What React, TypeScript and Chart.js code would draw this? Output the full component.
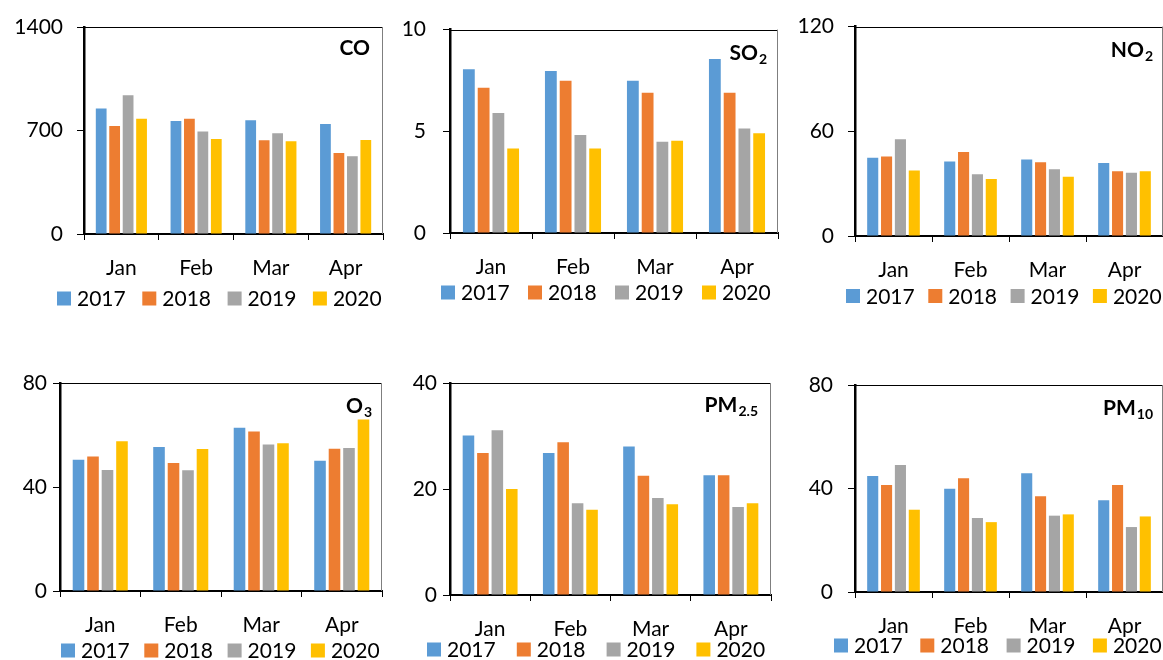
import React, { useEffect, useRef } from 'react';
import { Chart, registerables } from 'chart.js';

Chart.register(...registerables);
Chart.defaults.font.family = 'Lato, "Open Sans", sans-serif';

const months = ['Jan', 'Feb', 'Mar', 'Apr'];
const years = ['2017', '2018', '2019', '2020'];
const yearColors = ['#5B9BD5', '#ED7D31', '#A5A5A5', '#FFC000'];

// rows = years 2017..2020, columns = Jan..Apr
const coValues = [
  [849, 764, 769, 744],
  [730, 780, 634, 548],
  [939, 694, 681, 526],
  [780, 643, 627, 636],
];
const so2Values = [
  [8.05, 7.97, 7.48, 8.55],
  [7.14, 7.48, 6.9, 6.9],
  [5.9, 4.82, 4.49, 5.14],
  [4.15, 4.15, 4.53, 4.9],
];
const no2Values = [
  [44.8, 42.7, 43.8, 41.9],
  [45.5, 48.2, 42.3, 37.1],
  [55.4, 35.4, 38.3, 36.2],
  [37.5, 32.6, 33.9, 37.1],
];
const o3Values = [
  [50.5, 55.4, 62.8, 50.1],
  [51.7, 49.2, 61.3, 54.7],
  [46.5, 46.4, 56.3, 55.0],
  [57.6, 54.6, 56.8, 66.0],
];
const pm25Values = [
  [30.1, 26.8, 28.0, 22.6],
  [26.8, 28.8, 22.5, 22.6],
  [31.1, 17.3, 18.3, 16.6],
  [20.0, 16.1, 17.1, 17.3],
];
const pm10Values = [
  [44.8, 39.9, 45.9, 35.5],
  [41.4, 44.0, 37.0, 41.4],
  [49.1, 28.6, 29.5, 25.1],
  [31.8, 27.0, 30.0, 29.2],
];

const coTicks = [0, 1400, 700];
const so2Ticks = [0, 10, 5];
const no2Ticks = [0, 120, 60];
const o3Ticks = [0, 80, 40];
const pm25Ticks = [0, 40, 20];
const pm10Ticks = [0, 80, 40];

type Panel = {
  name: string; sub: string; values: number[][]; ticks: number[];
  left: number; top: number; width: number; height: number;
  yw: number; pr: number; pt: number; pb: number; yPad: number;
  titleDx: number; titleDy: number;
  legendX: number; legendY: number; legendPitch: number;
};

const XH = 52;

const panels: Panel[] = [
  { name: 'CO', sub: '', values: coValues, ticks: coTicks, left: 0, top: 0, width: 390, height: 330,
    yw: 84, pr: 7, pt: 27, pb: 44, yPad: 14, titleDx: 13, titleDy: 28, legendX: 57, legendY: 298.5, legendPitch: 85.3 },
  { name: 'SO', sub: '2', values: so2Values, ticks: so2Ticks, left: 390, top: 0, width: 390, height: 330,
    yw: 60, pr: 2, pt: 26, pb: 45, yPad: 17, titleDx: 11, titleDy: 30, legendX: 441, legendY: 292.5, legendPitch: 87 },
  { name: 'NO', sub: '2', values: no2Values, ticks: no2Ticks, left: 780, top: 0, width: 383, height: 330,
    yw: 75, pr: 0, pt: 26, pb: 42, yPad: 14, titleDx: 10, titleDy: 30, legendX: 846, legendY: 296, legendPitch: 82.3 },
  { name: 'O', sub: '3', values: o3Values, ticks: o3Ticks, left: 0, top: 340, width: 390, height: 320,
    yw: 60, pr: 8, pt: 43, pb: 17, yPad: 6, titleDx: 10, titleDy: 30, legendX: 61, legendY: 650.5, legendPitch: 83.3 },
  { name: 'PM', sub: '2.5', values: pm25Values, ticks: pm25Ticks, left: 390, top: 340, width: 390, height: 320,
    yw: 60, pr: 9, pt: 43, pb: 13, yPad: 6, titleDx: 13, titleDy: 29, legendX: 427, legendY: 649.5, legendPitch: 89.8 },
  { name: 'PM', sub: '10', values: pm10Values, ticks: pm10Ticks, left: 780, top: 340, width: 383, height: 320,
    yw: 75, pr: 0, pt: 45, pb: 16, yPad: 15, titleDx: 10, titleDy: 30, legendX: 834, legendY: 645.5, legendPitch: 86.3 },
];

const FONT = 'Lato, "Open Sans", sans-serif';

const panelDecor = {
  id: 'panelDecor',
  afterDraw(chart: any, _args: any, opts: any) {
    const { ctx, chartArea } = chart;
    const { left, right, top, bottom } = chartArea;
    ctx.save();
    // plot-area frame: top and right edges
    ctx.lineWidth = 1;
    ctx.strokeStyle = '#000';
    ctx.beginPath();
    ctx.moveTo(left, Math.round(top) + 0.5);
    ctx.lineTo(right, Math.round(top) + 0.5);
    ctx.stroke();
    ctx.strokeStyle = '#7f7f7f';
    ctx.beginPath();
    ctx.moveTo(Math.round(right) - 0.5, top);
    ctx.lineTo(Math.round(right) - 0.5, bottom);
    ctx.stroke();

    // pollutant label with subscript
    const mainFont = `bold 21px ${FONT}`;
    const subFont = `bold 14px ${FONT}`;
    ctx.fillStyle = '#000';
    ctx.textBaseline = 'alphabetic';
    ctx.textAlign = 'left';
    ctx.font = mainFont;
    const wMain = ctx.measureText(opts.name).width;
    ctx.font = subFont;
    const wSub = opts.sub ? ctx.measureText(opts.sub).width + 1 : 0;
    const xStart = right - opts.titleDx - wMain - wSub;
    const yBase = top + opts.titleDy;
    ctx.font = mainFont;
    ctx.fillText(opts.name, xStart, yBase);
    if (opts.sub) {
      ctx.font = subFont;
      ctx.fillText(opts.sub, xStart + wMain + 1, yBase + 4);
    }

    // legend
    ctx.font = `21px ${FONT}`;
    ctx.textBaseline = 'middle';
    chart.data.datasets.forEach((ds: any, i: number) => {
      const x = opts.legendX + i * opts.legendPitch;
      ctx.fillStyle = ds.backgroundColor;
      ctx.fillRect(x, opts.legendY - 7, 14, 14);
      ctx.fillStyle = '#000';
      ctx.fillText(ds.label, x + 20, opts.legendY + 1);
    });
    ctx.restore();
  },
};

function PanelChart({ p }: { p: Panel }) {
  const ref = useRef<HTMLCanvasElement>(null);
  useEffect(() => {
    if (!ref.current) return;
    const [tMin, tMax, tStep] = p.ticks;
    const chart = new Chart(ref.current, {
      type: 'bar',
      data: {
        labels: months,
        datasets: years.map((y, i) => ({
          label: y,
          data: p.values[i],
          backgroundColor: yearColors[i],
          borderWidth: 0,
          categoryPercentage: 0.72,
          barPercentage: 0.8,
        })),
      },
      plugins: [panelDecor],
      options: {
        responsive: false,
        animation: false,
        devicePixelRatio: 1,
        layout: { padding: { left: 0, right: p.pr, top: p.pt, bottom: p.pb } },
        plugins: {
          legend: { display: false },
          tooltip: { enabled: false },
          panelDecor: {
            name: p.name, sub: p.sub, titleDx: p.titleDx, titleDy: p.titleDy,
            legendX: p.legendX - p.left, legendY: p.legendY - p.top, legendPitch: p.legendPitch,
          },
        } as any,
        scales: {
          x: {
            ticks: { color: '#000', font: { size: 21 }, padding: 16, maxRotation: 0 },
            grid: { offset: true, drawOnChartArea: false, drawTicks: true, tickLength: 6, color: '#000', lineWidth: 1 },
            border: { display: true, color: '#000', width: 2 },
            afterFit: (s: any) => { s.height = XH; },
          },
          y: {
            min: tMin,
            max: tMax,
            ticks: { stepSize: tStep, color: '#000', font: { size: 21 }, padding: p.yPad, callback: (v: any) => String(v) },
            grid: { drawOnChartArea: false, drawTicks: true, tickLength: 7, color: '#000', lineWidth: 1 },
            border: { display: true, color: '#000', width: 2.5 },
            afterFit: (s: any) => { s.width = p.yw; },
          },
        },
      },
    });
    return () => chart.destroy();
  }, [p]);
  return (
    <canvas
      ref={ref}
      width={p.width}
      height={p.height}
      style={{ position: 'absolute', left: p.left, top: p.top, width: p.width, height: p.height }}
    />
  );
}

export default function App() {
  return (
    <div style={{ position: 'absolute', left: 0, top: 0, width: 1163, height: 660, overflow: 'hidden', background: '#fff' }}>
      {panels.map((p, i) => <PanelChart key={i} p={p} />)}
    </div>
  );
}
